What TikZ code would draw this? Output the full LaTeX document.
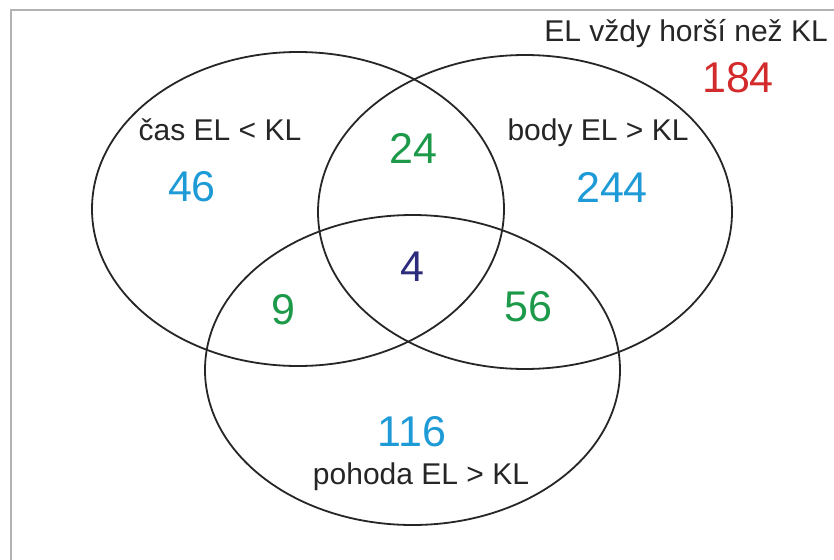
\documentclass[tikz,border=0pt]{standalone}
\usepackage{fontspec}
\setmainfont{Liberation Sans}
\usetikzlibrary{shapes.geometric}
\definecolor{setblue}{HTML}{1E9BD7}
\definecolor{setgreen}{HTML}{1C9A4A}
\definecolor{setnavy}{HTML}{2C2B7C}
\definecolor{setred}{HTML}{D32B2B}
\tikzset{
  setring/.style={draw=black!85, line width=1.8pt, ellipse, inner sep=0pt},
  setlabel/.style={font=\fontsize{30}{32}\selectfont, text=black!85, inner sep=0pt},
  count/.style={font=\fontsize{43}{46}\selectfont, inner sep=0pt},
}
\begin{document}
\begin{tikzpicture}[x=1pt,y=-1pt]
  \useasboundingbox (0,0) rectangle (834,559);
  \fill[white] (0,0) rectangle (834,559);
  % outer frame, its right and lower edges run off the page
  \draw[black!30, line width=1.2pt] (11,600) -- (11,10) -- (900,10);

  % the three sets
  \node[setring, minimum width=412pt, minimum height=314pt] (tim) at (298,209) {};
  \node[setring, minimum width=414pt, minimum height=314pt] (pts) at (525,212) {};
  \node[setring, minimum width=415pt, minimum height=310pt] (ease) at (412.5,370) {};

  % set names
  \node[setlabel] (timlab) at (220,130) {čas EL < KL};
  \node[setlabel] (ptslab) at (598,133) {body EL > KL};
  \node[setlabel] (easelab) at (421,477) {pohoda EL > KL};
  \node[setlabel] (worselab) at (686,34) {EL vždy horší než KL};

  % region counts
  \node[count, text=setblue] (onlytim) at (192,187) {46};
  \node[count, text=setblue] (onlypts) at (612,187) {244};
  \node[count, text=setblue] (onlyease) at (412,432) {116};
  \node[count, text=setgreen] (timpts) at (413,148) {24};
  \node[count, text=setgreen] (timease) at (283,310) {9};
  \node[count, text=setgreen] (ptsease) at (528,307) {56};
  \node[count, text=setnavy] (all) at (412,267) {4};
  \node[count, text=setred] (worse) at (738,78) {184};
\end{tikzpicture}
\end{document}
